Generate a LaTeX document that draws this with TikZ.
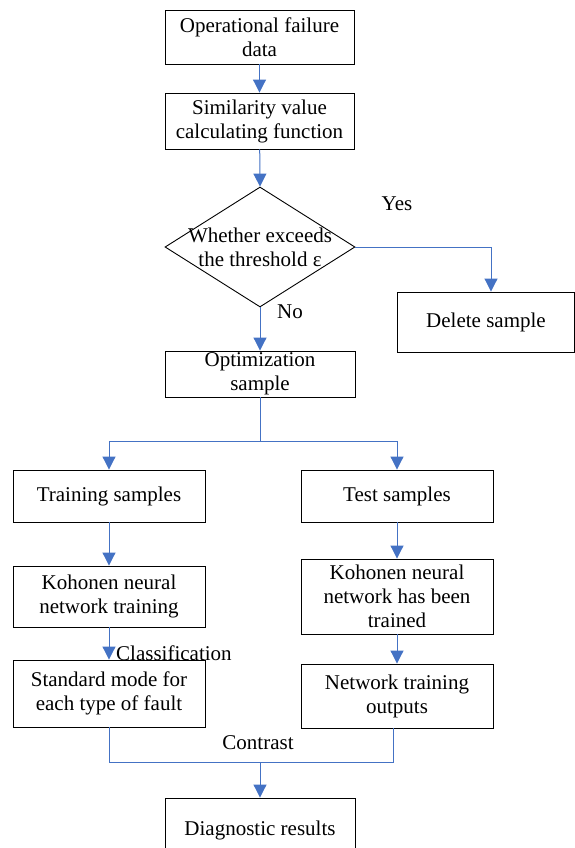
\documentclass[tikz,border=0pt]{standalone}
\usepackage{fontspec}
\setmainfont{Liberation Serif}
\usetikzlibrary{arrows.meta,shapes.geometric}
\definecolor{flowblue}{HTML}{4472C4}
\begin{document}
\begin{tikzpicture}[x=1pt,y=-1pt,
  box/.style={draw=black,line width=0.9pt,rectangle,inner sep=0pt,align=center,font=\fontsize{21}{24}\selectfont},
  lbl/.style={inner sep=0pt,align=center,font=\fontsize{21}{24}\selectfont},
  arr/.style={draw=flowblue,line width=1pt,-{Triangle[length=13pt,width=13pt]}},
  ln/.style={draw=flowblue,line width=1pt}]
\useasboundingbox (0,0) rectangle (575,848);
\clip (0,0) rectangle (575,848);
\node[box,minimum width=189pt,minimum height=54pt] (b1) at (259.5,37) {Operational failure\\data};
\node[box,minimum width=189pt,minimum height=56pt] (b2) at (259.5,121) {Similarity value\\calculating function};
\node[draw=black,line width=0.9pt,diamond,minimum width=190pt,minimum height=120pt,inner sep=0pt] (dia) at (260,247) {};
\node[lbl] (diat) at (260,247) {Whether exceeds\\the threshold ε};
\node[box,minimum width=177pt,minimum height=60pt] (del) at (486,322) {Delete sample};
\node[box,minimum width=190pt,minimum height=46pt] (opt) at (260,374) {Optimization\\sample};
\node[box,minimum width=192pt,minimum height=52pt] (train) at (109,496) {Training samples};
\node[box,minimum width=192pt,minimum height=52pt] (test) at (397,496) {Test samples};
\node[box,minimum width=192pt,minimum height=61pt] (kohl) at (109,596.5) {Kohonen neural\\network training};
\node[box,minimum width=192pt,minimum height=75pt] (kohr) at (397,596.5) {Kohonen neural\\network has been\\trained};
\node[box,minimum width=192pt,minimum height=67pt] (std) at (109,693.5) {Standard mode for\\each type of fault};
\node[box,minimum width=192pt,minimum height=64pt] (net) at (397,696) {Network training\\outputs};
\node[box,minimum width=190pt,minimum height=64pt] (diag) at (260,830) {Diagnostic results};
\node[lbl] (yes) at (397,204) {Yes};
\node[lbl] (no) at (290,312) {No};
\node[lbl,anchor=west] (cls) at (116,653) {Classification};
\node[lbl] (con) at (258,743) {Contrast};
\coordinate (fork) at (260,441);
\coordinate (merge) at (260,762);
\draw[arr] (b1) -- (b2);
\draw[arr] (b2) -- (dia.north);
\draw[arr] (dia.east) -| ([xshift=5pt]del.north);
\draw[arr] (dia.south) -- (opt);
\draw[ln] (opt.south) -- (fork);
\draw[arr] (fork) -| (train.north);
\draw[arr] (fork) -| (test.north);
\draw[arr] (train) -- (kohl);
\draw[arr] (test) -- (kohr);
\draw[arr] (kohl) -- (std);
\draw[arr] (kohr) -- (net);
\draw[ln] (std.south) |- (merge);
\draw[ln] ([xshift=-4pt]net.south) |- (merge);
\draw[arr] (merge) -- (diag.north);
\end{tikzpicture}
\end{document}
